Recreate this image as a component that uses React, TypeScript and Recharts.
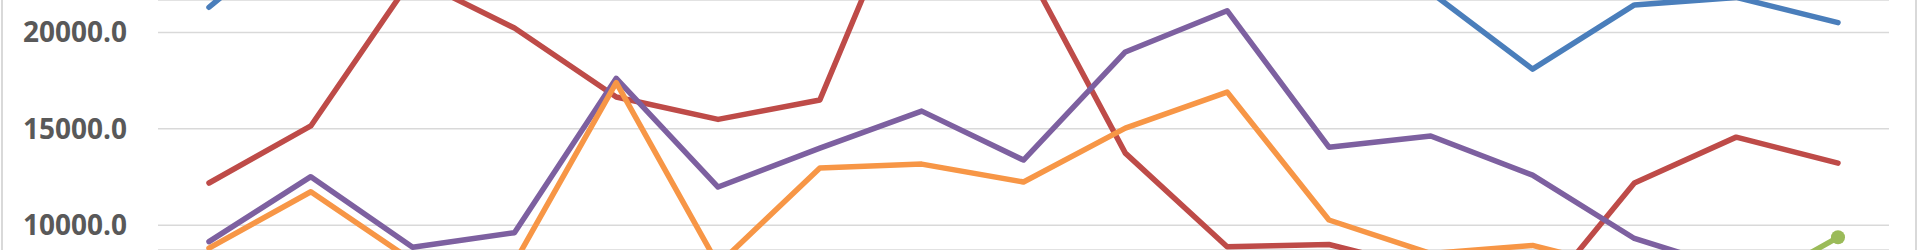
import React from 'react';
import { LineChart, Line, XAxis, YAxis, CartesianGrid } from 'recharts';

const categories = ['1', '2', '3', '4', '5', '6', '7', '8', '9', '10', '11', '12', '13', '14', '15', '16', '17'];

const blueValues = [21310, 25700, 27000, 26000, 25500, 24500, 25000, 27500, 26500, 25000, 24000, 23500, 22090, 18100, 21430, 21820, 20510];
const redValues = [12190, 15150, 22850, 20230, 16650, 15490, 16500, 29100, 23610, 13740, 8886, 9000, 7676, 5750, 12190, 14570, 13220];
const greenValues = [5200, 6100, 4800, 5600, 7200, 5000, 6300, 6600, 6000, 7000, 7400, 5400, 5200, 4600, 5000, 6380, 9373];
const purpleValues = [9145, 12518, 8854, 9612, 17620, 11980, 14000, 15920, 13380, 18990, 21130, 14050, 14630, 12600, 9310, 7670, 7400];
const orangeValues = [8810, 11735, 8150, 8050, 17400, 7950, 12965, 13170, 12240, 15040, 16910, 10270, 8530, 8950, 7620, 7300, 7600];

const yTicks = [10000, 15000, 20000];

const data = categories.map((cat, i) => ({
  cat,
  blue: blueValues[i],
  red: redValues[i],
  green: greenValues[i],
  purple: purpleValues[i],
  orange: orangeValues[i],
}));

const lineProps = {
  type: 'linear' as const,
  strokeWidth: 5.5,
  strokeLinejoin: 'round' as const,
  strokeLinecap: 'round' as const,
  dot: false,
  activeDot: false,
  isAnimationActive: false,
};

const App = () => {
  return (
    <div style={{ position: 'absolute', left: 0, top: 0, width: 1920, height: 250, overflow: 'hidden', background: '#fff' }}>
      <LineChart width={1920} height={250} data={data} margin={{ top: 0, right: 31, bottom: 0, left: 0 }}>
        <CartesianGrid vertical={false} stroke="#d9d9d9" strokeWidth={1.5} />
        <XAxis dataKey="cat" hide padding={{ left: 51, right: 51 }} />
        <YAxis
          width={158}
          domain={[8713, 21686]}
          allowDataOverflow
          ticks={yTicks}
          axisLine={false}
          tickLine={false}
          tickSize={0}
          tickMargin={31}
          tickFormatter={(v: number) => v.toFixed(1)}
          tick={{ fontFamily: 'Open Sans', fontWeight: 700, fontSize: 28, fill: '#595959' }}
        />
        <Line {...lineProps} dataKey="blue" stroke="#4a7ebb" />
        <Line {...lineProps} dataKey="red" stroke="#be4b48" />
        <Line
          {...lineProps}
          dataKey="green"
          stroke="#9bbb59"
          dot={{ r: 7, fill: '#9bbb59', stroke: 'none' }}
        />
        <Line {...lineProps} dataKey="purple" stroke="#7d60a0" />
        <Line {...lineProps} dataKey="orange" stroke="#f79646" />
      </LineChart>
      <div
        style={{
          position: 'absolute',
          left: 1,
          top: -4,
          width: 1916,
          height: 258,
          border: '2px solid #d9d9d9',
          boxSizing: 'border-box',
          pointerEvents: 'none',
        }}
      />
    </div>
  );
};

export default App;
